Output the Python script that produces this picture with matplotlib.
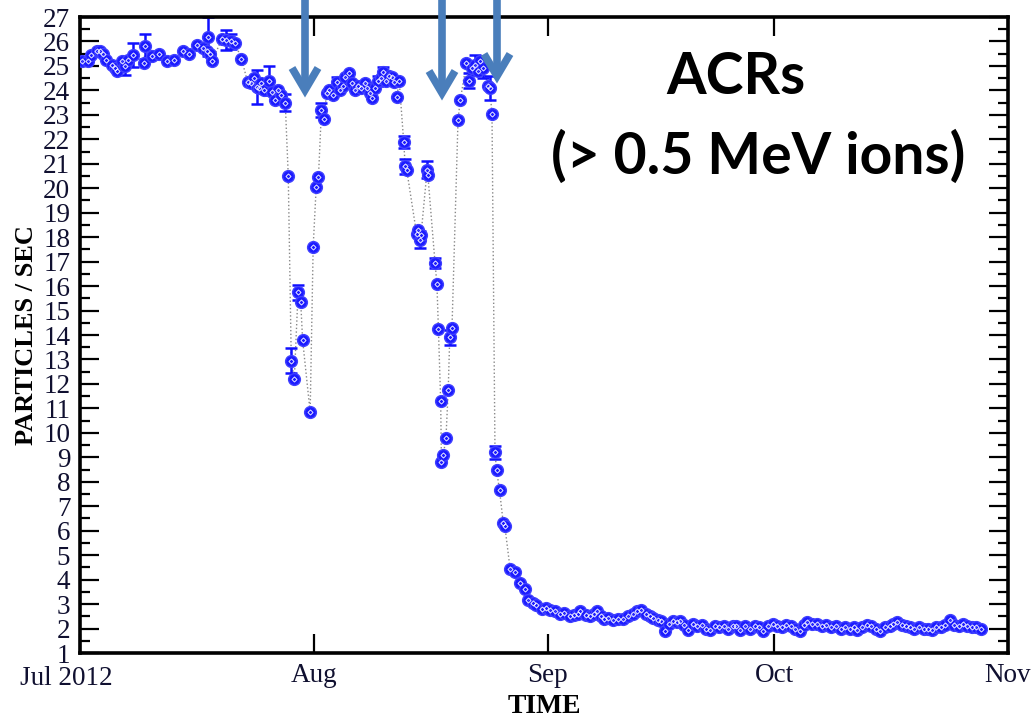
import numpy as np
import pandas as pd
import matplotlib
matplotlib.use("Agg")
import matplotlib.pyplot as plt
from matplotlib.lines import Line2D
from matplotlib.transforms import IdentityTransform, ScaledTranslation

# days since 2012-07-01 and count rate (particles / sec)
days = [0.3, 1.0, 1.5, 2.2, 2.6, 3.0, 3.5, 4.2, 4.6, 4.9, 5.5, 6.0, 6.4, 7.0,
        8.5, 8.6, 9.5, 10.5, 11.5, 12.5, 13.6, 14.4, 15.5, 16.3, 16.8, 17.0,
        17.2, 17.5, 18.8, 19.4, 20.0, 20.5, 21.4, 22.2, 22.6, 23.0, 23.4, 23.7,
        24.0, 24.4, 25.0, 25.4, 25.8, 26.3, 26.7, 27.2, 27.6, 28.0, 28.4, 28.9,
        29.25, 29.5, 30.5, 30.9, 31.3, 31.6, 32.0, 32.3, 32.7, 33.0, 33.5,
        34.0, 34.4, 34.8, 35.1, 35.6, 36.0, 36.4, 36.9, 37.3, 37.8, 38.1, 38.4,
        38.7, 39.1, 39.5, 39.9, 40.2, 40.6, 41.0, 41.3, 41.6, 42.0, 42.3, 42.9,
        43.1, 43.3, 44.6, 44.8, 45.0, 45.2, 46.0, 46.1, 47.05, 47.3, 47.5,
        47.8, 47.9, 48.15, 48.5, 48.8, 49.0, 49.3, 50.1, 50.4, 51.2, 51.5,
        52.0, 52.35, 52.8, 53.0, 53.45, 54.1, 54.3, 54.6, 55.0, 55.2, 55.6,
        56.1, 56.3, 57.0, 57.65, 58.3, 59.0, 59.4,
        60.0, 60.5, 61.2, 61.8, 62.3, 63.0, 63.6, 64.2, 64.9, 65.5, 66.0, 66.3,
        67.0, 67.6, 68.1, 68.5, 69.0, 69.4, 70.0, 70.7, 71.3, 72.0, 72.6, 73.3,
        73.8, 74.4, 75.0, 75.5, 76.0, 76.6, 77.0, 77.5, 78.0, 78.6, 79.1, 79.5,
        80.1, 80.6, 81.2, 81.8, 82.4, 83.0, 83.5, 84.1, 84.7, 85.3, 85.9, 86.5,
        87.0, 87.5, 88.2, 88.8, 89.4, 90.0, 90.5, 91.2, 91.8, 92.4, 93.0, 93.6,
        94.2, 94.8, 95.4, 96.0, 96.3, 97.0, 97.7, 98.3, 98.9, 99.5, 100.2,
        100.8, 101.4, 102.0, 102.6, 103.0, 103.7, 104.3, 104.9, 105.5, 106.0,
        106.7, 107.3, 107.8, 108.3, 108.9, 109.5, 110.0, 110.6, 111.2, 111.8,
        112.4, 112.9, 113.5, 114.1, 114.7, 115.3, 115.9, 116.5, 117.0, 117.6,
        118.2, 118.8, 119.4]
rate = [25.2, 25.2, 25.45, 25.6, 25.6, 25.5, 25.25, 25.05, 24.9, 24.8, 25.2,
        25.0, 25.25, 25.45, 25.1, 25.8, 25.4, 25.5, 25.2, 25.25, 25.6, 25.5,
        25.85, 25.75, 25.6, 26.2, 25.5, 25.2, 26.1, 26.05, 26.0, 25.95, 25.3,
        24.35, 24.3, 24.5, 24.15, 24.1, 24.3, 24.0, 24.4, 23.95, 23.6, 24.0,
        23.8, 23.5, 20.5, 12.95, 12.2, 15.75, 15.35, 13.8, 10.85, 17.6, 20.05,
        20.45, 23.2, 22.85, 23.9, 24.0, 23.8, 24.35, 24.0, 24.2, 24.55, 24.7,
        24.3, 24.0, 24.2, 24.1, 24.3, 24.1, 23.9, 23.7, 24.1, 24.4, 24.5,
        24.75, 24.4, 24.6, 24.55, 24.35, 23.75, 24.4, 21.9, 20.9, 20.75, 18.15,
        18.3, 17.9, 18.1, 20.75, 20.55, 16.95, 16.1, 14.25, 11.3, 8.8, 9.1,
        9.8, 11.75, 13.9, 14.3, 22.8, 23.6, 25.1, 24.4, 24.9, 25.05, 24.8,
        25.2, 24.9, 24.2, 24.1, 23.05, 9.2, 8.5, 7.65, 6.3, 6.2, 4.45, 4.3,
        3.85, 3.6, 3.15,
        3.05, 2.95, 2.8, 2.85, 2.75, 2.7, 2.6, 2.65, 2.5, 2.55, 2.6, 2.7,
        2.55, 2.5, 2.6, 2.7, 2.5, 2.4, 2.45, 2.35, 2.4, 2.4, 2.5, 2.6,
        2.7, 2.75, 2.6, 2.5, 2.45, 2.35, 2.3, 1.9, 2.2, 2.3, 2.25, 2.3,
        2.15, 1.95, 2.2, 2.1, 2.15, 2.0, 1.95, 2.1, 2.05, 2.1, 2.0, 2.1,
        2.1, 1.95, 2.1, 2.0, 2.1, 2.05, 1.9, 2.1, 2.2, 2.1, 2.05, 2.15,
        2.1, 2.0, 1.9, 2.15, 2.25, 2.2, 2.2, 2.1, 2.15, 2.05, 2.1,
        2.0, 2.05, 2.0, 2.05, 1.95, 2.05, 2.15, 2.1, 2.0, 1.9,
        2.05, 2.1, 2.2, 2.25, 2.15, 2.1, 2.05, 2.0, 2.05, 2.0,
        2.0, 1.95, 2.05, 2.05, 2.15, 2.35, 2.15, 2.1, 2.2, 2.1,
        2.05, 2.05, 2.0]

# points that show visible error bars
err_days = [6.0, 7.0, 8.6, 17.0, 19.4, 20.0, 23.4, 25.0, 27.2, 28.0, 28.9,
            32.0, 34.0, 39.5, 40.2, 42.9, 43.1, 45.0, 46.0, 47.05, 49.0,
            51.5, 52.35, 53.45, 54.3, 55.0]
err_rate = [25.0, 25.45, 25.8, 26.2, 26.05, 26.0, 24.15, 24.4, 23.5, 12.95,
            15.75, 23.2, 24.35, 24.4, 24.75, 21.9, 20.9, 17.9, 20.75, 16.95,
            13.9, 24.4, 25.05, 24.9, 24.1, 9.2]
err_size = [0.35, 0.5, 0.5, 0.8, 0.4, 0.3, 0.7, 0.6, 0.35, 0.5, 0.3, 0.3,
            0.2, 0.2, 0.2, 0.25, 0.3, 0.35, 0.35, 0.2, 0.3, 0.3, 0.4, 0.4,
            0.5, 0.25]

month_ticks = ["2012-07-01", "2012-08-01", "2012-09-01", "2012-10-01", "2012-11-01"]
month_labels = ["Jul 2012", "Aug", "Sep", "Oct", "Nov"]

start = pd.Timestamp("2012-07-01")
t = start + pd.to_timedelta(days, unit="D")
te = start + pd.to_timedelta(err_days, unit="D")

serif = "Liberation Serif"
fig = plt.figure(figsize=(10.34, 7.18), dpi=100)
ax = fig.add_axes([0.0774, 0.0905, 0.8975, 0.8858])

ax.plot(t, rate, ls=":", color="#888888", lw=1.0, zorder=1)
ax.errorbar(te, err_rate, yerr=err_size, fmt="none", ecolor="#1010ff",
            elinewidth=1.8, capsize=4, capthick=1.8, zorder=2)
ax.plot(t, rate, ls="none", marker="o", ms=8.5, mfc="#1c1cff", mec="#4040ff",
        mew=1.0, zorder=3)
ax.plot(t, rate, ls="none", marker="D", ms=2.6, mfc="none", mec="white",
        mew=0.6, zorder=4)

ax.set_xlim(pd.Timestamp(month_ticks[0]), pd.Timestamp(month_ticks[-1]))
ax.set_ylim(1, 27)
ax.set_xticks(pd.to_datetime(month_ticks))
ax.set_xticklabels(month_labels)
ax.set_yticks(np.arange(1, 28, 1))
ax.set_yticks(np.arange(1.5, 27, 1), minor=True)

ax.tick_params(axis="both", which="both", direction="in", top=True, right=True,
               width=1.6, colors="black")
ax.tick_params(axis="y", which="major", length=14, pad=7)
ax.tick_params(axis="y", which="minor", length=7)
ax.tick_params(axis="x", which="major", length=14, pad=7)
for lab in ax.get_xticklabels() + ax.get_yticklabels():
    lab.set_fontfamily(serif)
    lab.set_fontsize(19.5)
    lab.set_color("#101030")
first = ax.get_xticklabels()[0]
first.set_transform(first.get_transform() +
                    ScaledTranslation(-0.14, -0.03, fig.dpi_scale_trans))

for s in ax.spines.values():
    s.set_linewidth(2.6)

ax.set_ylabel("PARTICLES / SEC", fontfamily=serif, fontweight="bold",
              fontsize=19, labelpad=4)
ax.set_xlabel("TIME", fontfamily=serif, fontweight="bold", fontsize=20,
              labelpad=2)

fig.text(736 / 1034, 1 - 77 / 718, "ACRs", ha="center", va="center",
         fontfamily="Lato", fontweight="bold", fontsize=41)
fig.text(758 / 1034, 1 - 157 / 718, "(> 0.5 MeV ions)", ha="center",
         va="center", fontfamily="Lato", fontweight="bold", fontsize=41)

# three down arrows from the top edge (image pixel coords: x, tip y)
arrow_col = "#4a7ebb"
H = 718
for ax_x, tip in [(305, 90), (442, 93), (497, 76)]:
    fig.add_artist(Line2D([ax_x, ax_x], [H + 10, H - tip + 4], lw=5.5,
                          color=arrow_col, transform=IdentityTransform(),
                          solid_capstyle="butt"))
    fig.add_artist(Line2D([ax_x - 13, ax_x, ax_x + 13],
                          [H - tip + 22, H - tip, H - tip + 22], lw=5.5,
                          color=arrow_col, transform=IdentityTransform(),
                          solid_joinstyle="miter", solid_capstyle="butt"))

fig.savefig("out.png", dpi=100)
